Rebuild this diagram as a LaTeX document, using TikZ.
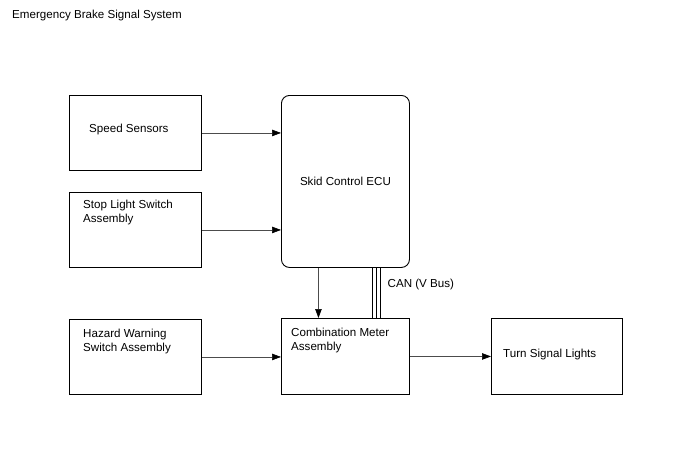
\documentclass[tikz,border=0pt]{standalone}
\usepackage{fontspec}
\setmainfont{Liberation Sans}
\usetikzlibrary{arrows.meta,calc}
\begin{document}
\begin{tikzpicture}[x=1pt,y=-1pt,
  box/.style={draw=black,line width=0.9pt,minimum width=132pt,minimum height=75pt,inner sep=0pt,anchor=north west},
  rbox/.style={box,rounded corners=8pt,minimum width=128pt},
  txt/.style={font=\fontsize{11.6}{13.5}\selectfont,align=left,inner sep=0pt,anchor=base west},
  arr/.style={draw=black!70,line width=0.6pt,-{Triangle[length=9pt,width=6.5pt,fill=black,color=black]}},
  can/.style={draw=black,line width=1.1pt}]
\useasboundingbox (0,0) rectangle (688,463);
\node[txt] (title) at (12,19) {Emergency Brake Signal System};
\node[box] (speed) at (69,95) {};
\node[box] (stop) at (69,192) {};
\node[box] (hazard) at (69,319) {};
\node[rbox,minimum height=172pt] (ecu) at (281,95) {};
\node[box,minimum width=128pt,minimum height=76pt] (combo) at (281,318) {};
\node[box,minimum width=131pt,minimum height=76pt] (turn) at (491,318) {};
\node[txt] (speedt) at ($(speed.north west)+(20,37)$) {Speed Sensors};
\node[txt] (stopt) at ($(stop.north west)+(14,30)$) {Stop Light Switch\\Assembly};
\node[txt] (hazardt) at ($(hazard.north west)+(14,32)$) {Hazard Warning\\Switch Assembly};
\node[txt,anchor=base] (ecut) at ($(ecu.north)+(0,90)$) {Skid Control ECU};
\node[txt] (combot) at ($(combo.north west)+(10,32)$) {Combination Meter\\Assembly};
\node[txt] (turnt) at ($(turn.north west)+(12,39)$) {Turn Signal Lights};
\draw[arr] (speed.east) -- (ecu.west |- speed.east);
\draw[arr] (stop.east) -- (ecu.west |- stop.east);
\draw[arr] (hazard.east) -- (combo.west |- hazard.east);
\draw[arr] (combo.east) -- (turn.west |- combo.east);
\coordinate (d1) at ($(ecu.south)+(-27,0)$);
\draw[arr] (d1) -- (d1 |- combo.north);
\foreach \i/\dx in {1/27,2/31,3/35}{
  \coordinate (c\i) at ($(ecu.south)+(\dx,0)$);
  \draw[can] (c\i) -- (c\i |- combo.north);
}
\node[txt] (canl) at ($(ecu.south)+(42,20)$) {CAN (V Bus)};
\end{tikzpicture}
\end{document}
